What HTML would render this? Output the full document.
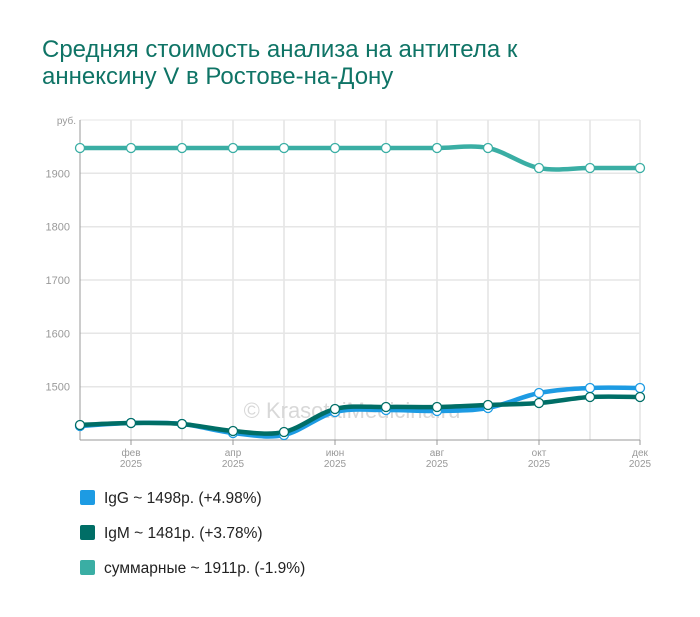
<!DOCTYPE html>
<html><head><meta charset="utf-8"><style>
body{margin:0;background:#fff;width:700px;height:617px;overflow:hidden;font-family:"Liberation Sans",Arial,sans-serif}
.t{position:absolute;left:42px;top:36px;font-size:24px;line-height:27px;color:#0f7466}
.lg{position:absolute;left:80px;font-size:15.5px;color:#222}
.lg span{display:inline-block;width:15px;height:15px;vertical-align:-2px;margin-right:9px;border-radius:2px}
</style></head><body>
<div class="t">Средняя стоимость анализа на антитела к<br>аннексину V в Ростове-на-Дону</div>
<svg id="s" width="700" height="617" style="position:absolute;left:0;top:0;z-index:-1" font-family="Liberation Sans, Arial, sans-serif"></svg>
<div class="lg" style="top:490px"><span style="background:#1d9be3"></span>IgG ~ 1498р. (+4.98%)</div>
<div class="lg" style="top:525px"><span style="background:#006e66"></span>IgM ~ 1481р. (+3.78%)</div>
<div class="lg" style="top:560px"><span style="background:#3aaea4"></span>суммарные ~ 1911р. (-1.9%)</div>
<script>
var xs=[80,131,182,233,284,335,386,437,488,539,590,640];
var h='';
for(var i=0;i<xs.length;i++)h+='<line x1="'+xs[i]+'" y1="120" x2="'+xs[i]+'" y2="440" stroke="#d6d6d6"/>';
var ys=[120,173.3,226.7,280,333.3,386.7];
for(var j=0;j<ys.length;j++)h+='<line x1="80" y1="'+ys[j]+'" x2="640" y2="'+ys[j]+'" stroke="#e6e6e6" stroke-width="'+(j?1.5:1)+'"/>';
h+='<line x1="80" y1="120" x2="80" y2="440" stroke="#999"/><line x1="80" y1="440" x2="640" y2="440" stroke="#999"/>';
var lab=['1900','1800','1700','1600','1500'];
for(j=0;j<5;j++)h+='<text x="70" y="'+(ys[j+1]+4)+'" font-size="11" fill="#999" text-anchor="end">'+lab[j]+'</text>';
h+='<text x="76" y="124" font-size="10" fill="#999" text-anchor="end">руб.</text>';
var ml=[[1,'фев'],[3,'апр'],[5,'июн'],[7,'авг'],[9,'окт'],[11,'дек']];
for(i=0;i<ml.length;i++){var x=xs[ml[i][0]];h+='<line x1="'+x+'" y1="440" x2="'+x+'" y2="445" stroke="#999"/><text x="'+x+'" y="456" font-size="10" fill="#999" text-anchor="middle">'+ml[i][1]+'</text><text x="'+x+'" y="467" font-size="10" fill="#999" text-anchor="middle">2025</text>';}
h+='<text x="352" y="418" font-size="22" fill="#d8d8d8" text-anchor="middle">© KrasotaiMedicina.ru</text>';
function path(p){var d='M'+xs[0]+','+p[0];for(var i=0;i<p.length-1;i++){var x0=xs[Math.max(i-1,0)],y0=p[Math.max(i-1,0)],x1=xs[i],y1=p[i],x2=xs[i+1],y2=p[i+1],x3=xs[Math.min(i+2,p.length-1)],y3=p[Math.min(i+2,p.length-1)];var t=6;d+=' C'+(x1+(x2-x0)/t)+','+(y1+(y2-y0)/t)+' '+(x2-(x3-x1)/t)+','+(y2-(y3-y1)/t)+' '+x2+','+y2;}return d;}
var S=[[148,148,148,148,148,148,148,148,148,168,168,168],'#3aaea4'];
var G=[[426,423,424,433,435,412,410,411,408,393,388,388],'#1d9be3'];
var M=[[425,423,424,431,432,409,407,407,405,403,397,397],'#006e66'];
[S,G,M].forEach(function(s){h+='<path d="'+path(s[0])+'" fill="none" stroke="'+s[1]+'" stroke-width="4.5" stroke-linecap="round"/>';});
[S,G,M].forEach(function(s){for(var i=0;i<12;i++)h+='<circle cx="'+xs[i]+'" cy="'+s[0][i]+'" r="4.5" fill="#fff" stroke="'+s[1]+'" stroke-width="1.3"/>';});
document.getElementById('s').innerHTML=h;
</script>
</body></html>
